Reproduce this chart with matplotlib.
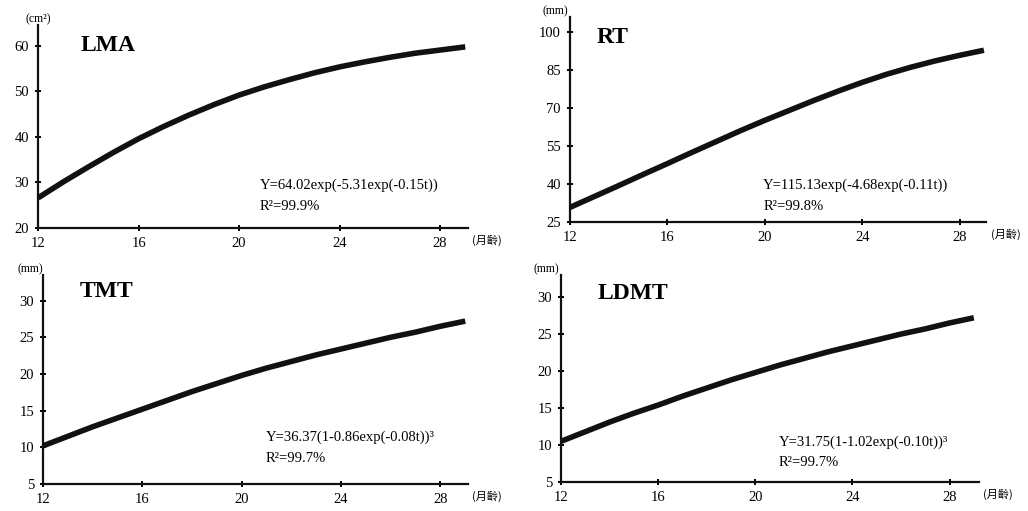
import matplotlib
matplotlib.use('agg')
from matplotlib import pyplot as plt

# values, one per month of age
months = [12, 13, 14, 15, 16, 17, 18, 19, 20, 21, 22, 23, 24, 25, 26, 27, 28, 29]
lma = [26.6, 30.1, 33.4, 36.6, 39.6, 42.3, 44.8, 47.1, 49.2, 51.0, 52.6, 54.1, 55.4, 56.5, 57.5, 58.4, 59.1, 59.8]
rt = [30.7, 35.0, 39.3, 43.7, 48.0, 52.4, 56.7, 61.0, 65.1, 69.0, 72.9, 76.6, 80.1, 83.3, 86.1, 88.6, 90.8, 92.8]
tmt = [10.2, 11.5, 12.8, 14.0, 15.2, 16.4, 17.6, 18.7, 19.8, 20.8, 21.7, 22.6, 23.4, 24.2, 25.0, 25.7, 26.5, 27.2]
ldmt = [10.5, 11.8, 13.1, 14.3, 15.4, 16.6, 17.7, 18.8, 19.8, 20.8, 21.7, 22.6, 23.4, 24.2, 25.0, 25.7, 26.5, 27.2]

x_ticks = [12, 16, 20, 24, 28]
lma_ticks = [20, 30, 40, 50, 60]
rt_ticks = [25, 40, 55, 70, 85, 100]
mm_ticks = [5, 10, 15, 20, 25, 30]

serif = 'Liberation Serif'
cjk = ['Noto Sans CJK TC', 'DejaVu Sans']

panels = [
    # rect, data, yticks, ylim, xmax, title, title pos, unit, unit x, equation, R2, eq pos
    ([0.037, 0.554, 0.418, 0.397], lma, lma_ticks, (20, 64.6), 29.1, 'LMA', (0.10, 0.90),
     '(cm²)', 0.0, 'Y=64.02exp(-5.31exp(-0.15t))', 'R²=99.9%', (0.516, 0.21, 0.105)),
    ([0.5545, 0.566, 0.405, 0.401], rt, rt_ticks, (25, 106), 29.1, 'RT', (0.065, 0.90),
     '(mm)', -0.035, 'Y=115.13exp(-4.68exp(-0.11t))', 'R²=99.8%', (0.464, 0.18, 0.075)),
    ([0.042, 0.053, 0.413, 0.409], tmt, mm_ticks, (5, 33.5), 29.1, 'TMT', (0.087, 0.92),
     '(mm)', -0.03, 'Y=36.37(1-0.86exp(-0.08t))³', 'R²=99.7%', (0.525, 0.225, 0.12)),
    ([0.546, 0.057, 0.406, 0.405], ldmt, mm_ticks, (5, 33.0), 29.2, 'LDMT', (0.086, 0.91),
     '(mm)', -0.035, 'Y=31.75(1-1.02exp(-0.10t))³', 'R²=99.7%', (0.52, 0.19, 0.095)),
]

fig = plt.figure(figsize=(10.28, 5.11), dpi=100)

for rect, vals, yt, ylim, xmax, title, tpos, unit, ux, eq, r2, epos in panels:
    ax = fig.add_axes(rect)
    ax.plot(months, vals, color='#111111', linewidth=4.0, solid_capstyle='butt')
    ax.set_xlim(12, xmax)
    ax.set_ylim(*ylim)
    ax.set_xticks(x_ticks)
    ax.set_yticks(yt)
    for s in ['top', 'right']:
        ax.spines[s].set_visible(False)
    for s in ['left', 'bottom']:
        ax.spines[s].set_linewidth(1.6)
        ax.spines[s].set_color('#111111')
    ax.tick_params(direction='inout', length=5, width=1.4, labelsize=10.5, pad=4)
    for lbl in ax.get_xticklabels() + ax.get_yticklabels():
        lbl.set_fontfamily(serif)

    ax.text(tpos[0], tpos[1], title, transform=ax.transAxes, fontsize=17,
            fontweight='bold', family=serif, va='center', ha='left')
    ax.text(epos[0], epos[1], eq, transform=ax.transAxes, fontsize=10.5,
            family=serif, va='center', ha='left')
    ax.text(epos[0], epos[2], r2, transform=ax.transAxes, fontsize=10.5,
            family=serif, va='center', ha='left')
    ax.text(ux, 1.0, unit, transform=ax.transAxes, fontsize=8.5,
            family=serif, va='bottom', ha='center')
    ax.text(1.01, -0.06, '(月齡)', transform=ax.transAxes, fontsize=8,
            family=cjk, va='center', ha='left')

plt.savefig('out.png', dpi=100)
